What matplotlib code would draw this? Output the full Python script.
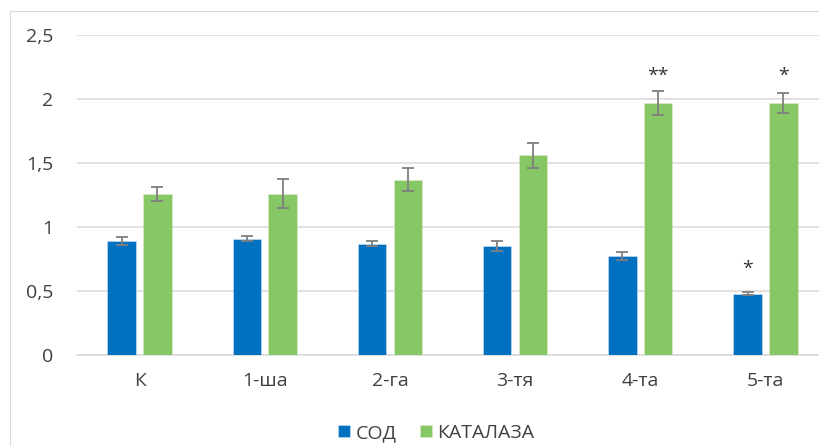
import matplotlib
matplotlib.use("Agg")
import matplotlib.pyplot as plt
import numpy as np
from matplotlib.patches import Rectangle

categories = ["К", "1-ша", "2-га", "3-тя", "4-та", "5-та"]
sod = [0.89, 0.91, 0.87, 0.85, 0.77, 0.48]
sod_err = [0.034, 0.02, 0.018, 0.04, 0.031, 0.013]
katalaza = [1.26, 1.26, 1.37, 1.56, 1.97, 1.97]
katalaza_err = [0.053, 0.112, 0.09, 0.10, 0.095, 0.08]
sod_marks = ["", "", "", "", "", "*"]
kat_marks = ["", "", "", "", "**", "*"]
yticks = [0, 0.5, 1, 1.5, 2, 2.5]
ytick_labels = ["0", "0,5", "1", "1,5", "2", "2,5"]

plt.rcParams['font.family'] = ['Open Sans', 'DejaVu Sans']

W, H = 820, 446
fig = plt.figure(figsize=(W / 100, H / 100), dpi=100)
fig.patches.append(Rectangle((10.5 / W, -0.1), 1.2, (446 - 10.5) / H + 0.1,
                             transform=fig.transFigure, fill=False,
                             edgecolor="#D9D9D9", linewidth=0.8, zorder=0))

ax = fig.add_axes([77 / W, (H - 355) / H, 751 / W, 320 / H])
x = np.arange(len(categories))
bw = 0.227
off = 0.143
blue = "#0070C0"
green = "#88C766"
ekw = dict(ecolor="#7F7F7F", elinewidth=1.3, capsize=4, capthick=1.3)
ax.bar(x - off, sod, bw, color=blue, yerr=sod_err, error_kw=ekw, zorder=3,
       label="СОД", edgecolor="#CFE3F2", linewidth=0.4)
ax.bar(x + off, katalaza, bw, color=green, yerr=katalaza_err, error_kw=ekw, zorder=3,
       label="КАТАЛАЗА", edgecolor="#D8ECCB", linewidth=0.4)

for i, m in enumerate(sod_marks):
    if m:
        ax.text(x[i] - off, sod[i] + sod_err[i] + 0.18, m, ha="center", va="center",
                fontsize=14, color="#333333")
for i, m in enumerate(kat_marks):
    if m:
        ax.text(x[i] + off, 2.18, m, ha="center", va="center",
                fontsize=14, color="#333333")

ax.set_xlim(-0.5, len(categories) - 0.5)
ax.set_ylim(0, 2.5)
ax.set_yticks(yticks)
ax.set_yticklabels(ytick_labels)
ax.set_xticks(x)
ax.set_xticklabels(categories)
ax.tick_params(axis="y", length=0, pad=17, labelsize=14, labelcolor="#404040")
ax.tick_params(axis="x", length=0, pad=12, labelsize=14, labelcolor="#404040")
ax.grid(axis="y", color="#D9D9D9", linewidth=1.1, zorder=0)
ax.set_axisbelow(True)
for s in ["top", "right", "left"]:
    ax.spines[s].set_visible(False)
ax.spines["bottom"].set_color("#D9D9D9")
ax.spines["bottom"].set_linewidth(1.1)

fig.legend(loc="center", bbox_to_anchor=(436 / W, 1 - 433 / H), ncol=2, frameon=False,
           fontsize=14, handlelength=0.62, handleheight=0.62, handletextpad=0.28,
           columnspacing=1.2, labelcolor="#404040")

fig.savefig("out.png", dpi=100)
